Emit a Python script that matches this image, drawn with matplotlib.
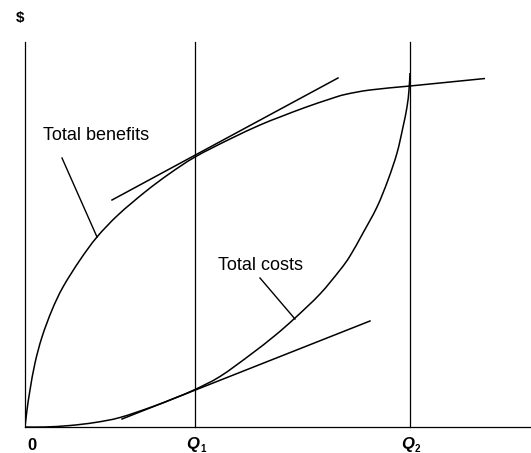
import matplotlib
matplotlib.use("Agg")
import matplotlib.pyplot as plt
from matplotlib.path import Path
from matplotlib.patches import PathPatch

plt.rcParams['font.family'] = ['Liberation Sans', 'DejaVu Sans']

# Data (arbitrary units)
benefit_x = [0, 2, 5, 10, 17, 27, 38, 55, 72, 93, 120, 144, 170, 205, 235, 255, 280, 305, 320, 345, 385, 425, 460]
benefit_y = [0, 17, 37, 64, 90, 117, 140, 167, 190, 212, 235, 253, 270, 288, 302, 310, 319.5, 328, 332.5, 337, 341, 345, 348.5]

cost_x = [0, 20, 45, 70, 95, 128, 150, 170, 195, 225, 250, 270, 295, 315, 325, 338, 352, 363, 372, 378, 382, 384, 385]
cost_y = [0, 0, 1.5, 4.5, 9.5, 20.5, 29, 37.5, 50.5, 72, 91.5, 109, 133, 157, 171, 194, 220, 247, 274, 300, 320, 337, 354]

benefit_tangent_x = [87, 313]
benefit_tangent_y = [227, 349]
cost_tangent_x = [97, 345]
cost_tangent_y = [8, 106]

q_positions = [170, 385]
q_labels = ['1', '2']

benefit_leader_x = [37, 72]
benefit_leader_y = [269, 190]
cost_leader_x = [235, 270]
cost_leader_y = [149, 108]


def smooth_path(xs, ys):
    """Catmull-Rom spline through the points, expressed as cubic Bezier path."""
    pts = list(zip(xs, ys))
    verts = [pts[0]]
    codes = [Path.MOVETO]
    n = len(pts)
    for i in range(n - 1):
        p0 = pts[i - 1] if i > 0 else pts[i]
        p1 = pts[i]
        p2 = pts[i + 1]
        p3 = pts[i + 2] if i + 2 < n else pts[i + 1]
        c1 = (p1[0] + (p2[0] - p0[0]) / 6.0, p1[1] + (p2[1] - p0[1]) / 6.0)
        c2 = (p2[0] - (p3[0] - p1[0]) / 6.0, p2[1] - (p3[1] - p1[1]) / 6.0)
        verts += [c1, c2, p2]
        codes += [Path.CURVE4] * 3
    return Path(verts, codes)


fig = plt.figure(figsize=(5.31, 4.53), dpi=100)
ax = fig.add_axes([25 / 531, 26 / 453, 506 / 531, 385 / 453])
ax.set_xlim(0, 506)
ax.set_ylim(0, 385)
for s in ['top', 'right']:
    ax.spines[s].set_visible(False)
for s in ['left', 'bottom']:
    ax.spines[s].set_linewidth(0.9)
    ax.spines[s].set_color('black')
ax.set_xticks([])
ax.set_yticks([])

lw = 1.1
ax.add_patch(PathPatch(smooth_path(benefit_x, benefit_y), fill=False, edgecolor='black', lw=lw))
ax.add_patch(PathPatch(smooth_path(cost_x, cost_y), fill=False, edgecolor='black', lw=lw))
ax.plot(benefit_tangent_x, benefit_tangent_y, color='black', lw=lw)
ax.plot(cost_tangent_x, cost_tangent_y, color='black', lw=lw)
ax.plot(benefit_leader_x, benefit_leader_y, color='black', lw=1.0)
ax.plot(cost_leader_x, cost_leader_y, color='black', lw=1.0)

for q in q_positions:
    ax.plot([q, q], [0, 385], color='black', lw=0.9, clip_on=False)

ax.text(18, 292, 'Total benefits', fontsize=13, va='center', ha='left')
ax.text(193, 161, 'Total costs', fontsize=13, va='center', ha='left')

ax.text(-5, 409, '$', fontsize=11, fontweight='bold', va='center', ha='center', clip_on=False)
ax.text(7, -18, '0', fontsize=12, fontweight='bold', va='center', ha='center', clip_on=False)
for q, lab in zip(q_positions, q_labels):
    ax.text(q - 2, -18, 'Q', fontsize=12, fontweight='bold', style='italic',
            va='center', ha='center', clip_on=False)
    ax.text(q + 5, -22, lab, fontsize=7, fontweight='bold',
            va='center', ha='left', clip_on=False)

fig.savefig('out.png', dpi=100)
